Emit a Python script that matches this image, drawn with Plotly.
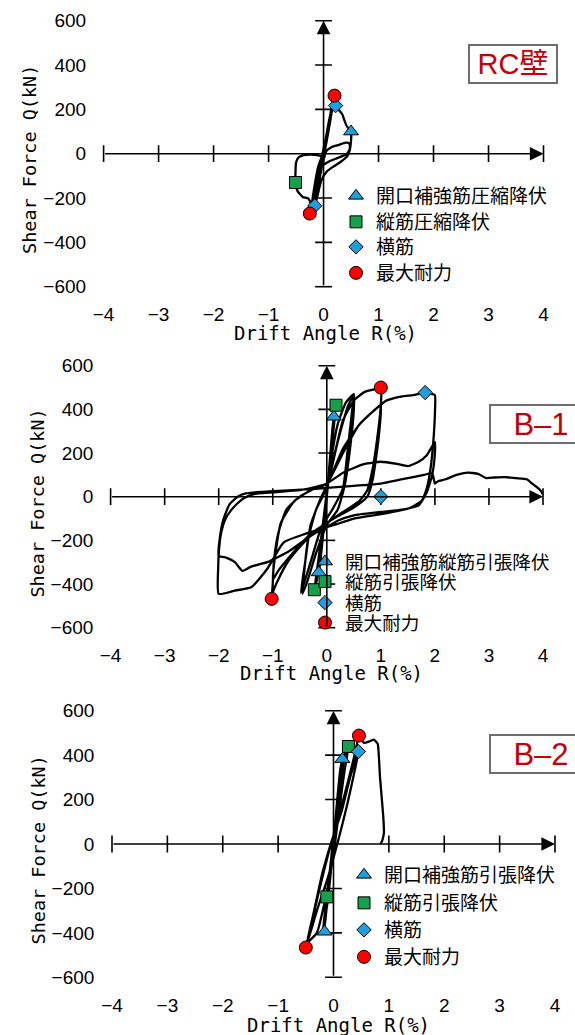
import plotly.graph_objects as go

W, H = 575, 1035

# ---------------- tick values / labels ----------------
drift_ticks = [-4, -3, -2, -1, 0, 1, 2, 3, 4]
drift_tick_text = ["−4", "−3", "−2", "−1", "0", "1", "2", "3", "4"]
shear_ticks = [-600, -400, -200, 0, 200, 400, 600]
shear_tick_text = ["−600", "−400", "−200", "0", "200", "400", "600"]
cross_drift = [-4, -3, -2, -1, 1, 2, 3, 4]
cross_shear = [-600, -400, -200, 200, 400, 600]

panel_names = ["RC壁", "B–1", "B–2"]
x_title = "Drift Angle R(%)"
y_title = "Shear Force Q(kN)"

# ---------------- RC壁 hysteresis ----------------
rc_drift = [0.00, 0.08, 0.16, 0.10, 0.00, -0.10, -0.17, -0.09, 0.00, 0.10, 0.18, 0.12,
            0.02, -0.08, -0.19, -0.12, -0.02, 0.08, 0.17, 0.11, 0.01, -0.09, -0.20,
            -0.13, -0.03, 0.08, 0.16, 0.20, 0.22, 0.27, 0.34, 0.38,
            0.42, 0.50, 0.50, 0.47, 0.43, 0.32, 0.18, 0.06, -0.04, -0.12, -0.16, -0.10,
            -0.03, 0.05, 0.15, 0.28, 0.40, 0.46, 0.48, 0.46, 0.40, 0.25, 0.10, -0.05,
            -0.15, -0.22, -0.18, -0.10, -0.04, -0.12, -0.25, -0.38, -0.46, -0.50, -0.51,
            -0.51, -0.47, -0.38, -0.28, -0.22, -0.25, -0.18, -0.10, -0.02, 0.06, 0.14,
            0.20]
rc_shear = [0, 110, 215, 120, -10, -140, -230, -120, 10, 150, 235, 150,
            10, -120, -245, -150, -10, 120, 225, 130, -5, -130, -240,
            -140, -20, 110, 230, 262, 217, 200, 178, 150,
            125, 100, 60, 10, -12, -35, -58, -80, -120, -200, -235, -150,
            -60, 12, 30, 40, 50, 48, 30, 12, -5, -20, -35, -60,
            -150, -240, -170, -60, -12, -6, -4, -8, -18, -40, -80,
            -130, -170, -195, -202, -230, -270, -180, -80, 0, 90, 180,
            230]

# ---------------- B-1 hysteresis ----------------
b1_drift = [0.00, 0.05, 0.10, 0.13, 0.08, 0.00, -0.06, -0.12, -0.15, -0.08, 0.00, 0.08,
            0.15, 0.17, 0.10, 0.00, -0.10, -0.20, -0.23, -0.15, -0.05,
            0.05, 0.20, 0.35, 0.50, 0.50, 0.42, 0.33, 0.20, 0.00, -0.20, -0.35, -0.45,
            -0.42, -0.35, -0.20, 0.00, 0.20, 0.40, 0.50, 0.48, 0.38, 0.30, 0.10, -0.10,
            -0.30, -0.48, -0.40, -0.30, -0.10, 0.00,
            0.15, 0.30, 0.50, 0.70, 0.85, 1.00, 1.00, 0.95, 0.85, 0.75, 0.60, 0.30, 0.00,
            -0.30, -0.50, -0.70, -0.90, -1.00, -1.02, -1.00, -0.98, -0.90, -0.75, -0.50,
            -0.20, 0.00, 0.30, 0.60, 0.85, 1.00, 0.95, 0.85, 0.75, 0.50, 0.20, 0.00,
            -0.30, -0.60, -0.90, -1.00, -0.95, -0.85, -0.60, -0.30, 0.00,
            0.30, 0.60, 0.90, 1.10, 1.40, 1.60, 1.82, 1.95, 2.00, 2.00, 1.97, 1.92, 1.85,
            1.75, 1.50, 1.00, 0.50, 0.20, 0.00, -0.40, -0.80, -1.10, -1.40, -1.70, -2.00,
            -2.01, -1.99, -1.95, -1.88, -1.78, -1.65, -1.52, -1.35, -1.00, -0.50, -0.20, 0.00,
            0.30, 0.70, 1.00, 1.30, 1.50, 1.70, 1.85, 2.00, 2.00, 1.95, 1.85, 1.70, 1.40,
            1.00, 0.50, 0.17, 0.00, -0.30, -0.70, -1.10, -1.40, -1.56, -1.70, -1.85, -2.00,
            -1.98, -1.92, -1.80, -1.65, -1.50, -1.20, -0.80, -0.30, 0.00,
            0.50, 1.00, 1.40, 1.80, 1.95, 2.00, 2.05, 2.20, 2.40, 2.60, 2.80, 2.95, 3.10,
            3.30, 3.50, 3.70, 3.80, 3.95, 4.00]
b1_shear = [0, 150, 300, 366, 200, 0, -150, -300, -347, -180, 0, 220,
            400, 419, 250, 20, -230, -400, -426, -280, -80,
            120, 330, 430, 470, 400, 200, 50, -60, -130, -260, -380, -445,
            -350, -200, -60, 40, 250, 420, 465, 420, 200, 40, -60, -140,
            -300, -440, -300, -130, 0, 50,
            200, 350, 440, 480, 490, 500, 420, 300, 130, 30, -20, -70, -120,
            -180, -230, -290, -380, -440, -468, -400, -300, -170, -60, 0,
            40, 60, 220, 330, 390, 420, 250, 80, 0, -50, -90, -120,
            -170, -250, -340, -380, -260, -120, -20, 30, 60,
            200, 330, 400, 440, 460, 465, 477, 470, 465, 380, 250, 130, 40,
            -20, -55, -70, -85, -110, -140, -170, -210, -330, -415, -430, -445,
            -330, -230, -160, -105, -65, -30, -5, 12, 20, 30, 45, 60,
            110, 150, 160, 150, 140, 160, 190, 250, 200, 100, 20, -40, -60,
            -80, -100, -127, -140, -180, -250, -300, -320, -340, -300, -280, -270,
            -190, -110, -35, 0, 15, 22, 28, 35, 40,
            50, 60, 80, 100, 108, 60, 70, 80, 100, 110, 105, 85, 88,
            90, 85, 80, 60, 30, 10]

# ---------------- B-2 hysteresis ----------------
b2_drift = [0.00, 0.08, 0.15, 0.05, -0.05, -0.15, -0.18, -0.08, 0.03, 0.12, 0.16, 0.10,
            0.00, -0.10, -0.12, -0.20, -0.10, 0.00, 0.10, 0.20, 0.27, 0.20, 0.10, 0.00,
            -0.15, -0.30, -0.45, -0.50, -0.35, -0.20, -0.05, 0.15, 0.30, 0.45, 0.40, 0.25,
            0.10, -0.10, -0.30, -0.48, -0.40, -0.25, -0.10, 0.05, 0.25, 0.40, 0.46, 0.55,
            0.65, 0.73, 0.77, 0.80, 0.84, 0.90, 0.91, 0.88, 0.85]
b2_shear = [0, 200, 380, 150, -100, -350, -395, -150, 100, 330, 382, 250,
            20, -200, -238, -400, -250, 0, 200, 400, 439, 330, 150, -50,
            -250, -400, -440, -466, -300, -130, 0, 150, 300, 416, 350, 180,
            30, -150, -300, -450, -360, -200, -50, 80, 270, 420, 488, 455,
            462, 470, 460, 450, 300, 120, 50, 15, 0]

# ---------------- event markers (x = drift %, y = shear kN) ----------------
rc_events = {
    "open": ([0.50], [100]),
    "vert": ([-0.51], [-130]),
    "horiz": ([0.22, -0.16], [217, -235]),
    "max": ([0.20, -0.25], [262, -270]),
}
b1_events = {
    "open": ([0.13, -0.15], [366, -347]),
    "vert": ([0.17, -0.23], [419, -426]),
    "horiz": ([1.82, 1.00], [477, 0]),
    "max": ([1.00, -1.02], [500, -468]),
}
b2_events = {
    "open": ([0.16, -0.16], [382, -395]),
    "vert": ([0.27, -0.12], [439, -238]),
    "horiz": ([0.45], [416]),
    "max": ([0.46, -0.50], [488, -466]),
}

rc_labels = ["開口補強筋圧縮降伏", "縦筋圧縮降伏", "横筋", "最大耐力"]
b1_labels = ["開口補強筋縦筋引張降伏", "縦筋引張降伏", "横筋", "最大耐力"]
b2_labels = ["開口補強筋引張降伏", "縦筋引張降伏", "横筋", "最大耐力"]

# ---------------- styles / layout geometry ----------------
BLUE, GREEN, RED = "#1E9EDC", "#16A04B", "#FF0000"
event_keys = ["open", "vert", "horiz", "max"]
event_style = {
    "open": dict(symbol="triangle-up", color=BLUE, size=13),
    "vert": dict(symbol="square", color=GREEN, size=12),
    "horiz": dict(symbol="diamond", color=BLUE, size=11),
    "max": dict(symbol="circle", color=RED, size=13),
}

XR = [-4.3, 4.3]
YR = [-665, 665]

panels = [
    dict(drift=rc_drift, shear=rc_shear, events=rc_events, labels=rc_labels,
         px=(103.6, 543.5), py=(20.7, 286.7), leg_x=376, leg_rows=[196, 222, 247, 273],
         leg_font=19, xt=(325.5, 332.5), yt=(29, 160), box=(513, 63.5)),
    dict(drift=b1_drift, shear=b1_shear, events=b1_events, labels=b1_labels,
         px=(110.6, 543.0), py=(365.7, 627.7), leg_x=345, leg_rows=[562, 582, 603, 623],
         leg_font=18.6, xt=(331, 673), yt=(36.6, 503), box=(541, 424)),
    dict(drift=b2_drift, shear=b2_shear, events=b2_events, labels=b2_labels,
         px=(112.0, 555.0), py=(710.7, 977.3), leg_x=384, leg_rows=[875, 903, 930, 957],
         leg_font=19, xt=(338, 1025), yt=(37.5, 850), box=(541, 754)),
]

fig = go.Figure()
annotations = []
layout = {}
legend_count = 0

for i, p in enumerate(panels):
    n = "" if i == 0 else str(i + 1)
    xa, ya = "x" + n, "y" + n

    # domains from pixel anchors
    xl, xr = p["px"]
    sx = (xr - xl) / 8.0
    d_left = (xl + (XR[0] + 4) * sx) / W
    d_right = (xl + (XR[1] + 4) * sx) / W
    yt_px, yb_px = p["py"]
    sy = (yb_px - yt_px) / 1200.0
    top_px = yt_px - (YR[1] - 600) * sy
    bot_px = yb_px + (-600 - YR[0]) * sy
    layout["xaxis" + n] = dict(
        domain=[d_left, d_right], range=XR, anchor=ya, showgrid=False, zeroline=False,
        showline=False, ticks="", tickvals=drift_ticks, ticktext=drift_tick_text,
        tickfont=dict(family="Liberation Sans, Arial", size=19, color="black"),
        automargin=False, fixedrange=True)
    layout["yaxis" + n] = dict(
        domain=[1 - bot_px / H, 1 - top_px / H], range=YR, anchor=xa, showgrid=False,
        zeroline=False, showline=False, ticks="", tickvals=shear_ticks,
        ticktext=shear_tick_text,
        tickfont=dict(family="Liberation Sans, Arial", size=19, color="black"),
        automargin=False, fixedrange=True)

    # hysteresis curve
    fig.add_trace(go.Scatter(x=p["drift"], y=p["shear"], mode="lines",
                             line=dict(color="black", width=2.3, shape="spline",
                                       smoothing=0.5),
                             showlegend=False, xaxis=xa, yaxis=ya, hoverinfo="skip"))
    # tick crosses on the axes
    fig.add_trace(go.Scatter(x=cross_drift, y=[0] * len(cross_drift), mode="markers",
                             marker=dict(symbol="line-ns", size=12,
                                         line=dict(color="black", width=1.6)),
                             showlegend=False, xaxis=xa, yaxis=ya, hoverinfo="skip"))
    fig.add_trace(go.Scatter(x=[0] * len(cross_shear), y=cross_shear, mode="markers",
                             marker=dict(symbol="line-ew", size=12,
                                         line=dict(color="black", width=1.6)),
                             showlegend=False, xaxis=xa, yaxis=ya, hoverinfo="skip"))

    # axis arrows
    annotations.append(dict(x=4, y=0, ax=-4, ay=0, xref=xa, yref=ya, axref=xa, ayref=ya,
                            text="", showarrow=True, arrowhead=2, arrowsize=1.7,
                            arrowwidth=1.6, arrowcolor="black", standoff=0))
    annotations.append(dict(x=0, y=600, ax=0, ay=-600, xref=xa, yref=ya, axref=xa,
                            ayref=ya, text="", showarrow=True, arrowhead=2, arrowsize=1.7,
                            arrowwidth=1.6, arrowcolor="black", standoff=0))

    # event markers + per-item legends
    for k, key in enumerate(event_keys):
        legend_count += 1
        lname = "legend" if legend_count == 1 else "legend%d" % legend_count
        st = event_style[key]
        ex, ey = p["events"][key]
        fig.add_trace(go.Scatter(
            x=ex, y=ey, mode="markers", name=p["labels"][k],
            marker=dict(symbol=st["symbol"], color=st["color"], size=st["size"],
                        line=dict(color="black", width=1)),
            xaxis=xa, yaxis=ya, legend=lname, cliponaxis=False, hoverinfo="skip"))
        layout[lname] = dict(
            x=(p["leg_x"] - 40) / W, xanchor="left",
            y=1 - p["leg_rows"][k] / H, yanchor="middle",
            bgcolor="rgba(0,0,0,0)", borderwidth=0, itemwidth=30,
            font=dict(family="Noto Sans CJK JP", size=p["leg_font"], color="black"))

    # axis titles
    annotations.append(dict(x=p["xt"][0] / W, y=1 - p["xt"][1] / H, xref="paper",
                            yref="paper", text=x_title, showarrow=False,
                            font=dict(family="DejaVu Sans Mono", size=19, color="black"),
                            xanchor="center", yanchor="middle"))
    annotations.append(dict(x=p["yt"][0] / W, y=1 - p["yt"][1] / H, xref="paper",
                            yref="paper", text=y_title, showarrow=False, textangle=-90,
                            font=dict(family="DejaVu Sans Mono", size=18.5, color="black"),
                            xanchor="center", yanchor="middle"))

    # specimen label box
    bw = 86 if i == 0 else 100
    annotations.append(dict(x=p["box"][0] / W, y=1 - p["box"][1] / H, xref="paper",
                            yref="paper", text=panel_names[i], showarrow=False,
                            font=dict(family="Liberation Sans, Arial, Noto Sans CJK JP",
                                      size=29 if i == 0 else 31, color="#C4000A"),
                            bgcolor="white", bordercolor="#6E6E6E", borderwidth=2,
                            borderpad=0, width=bw, height=36,
                            xanchor="center", yanchor="middle"))

fig.update_layout(
    width=W, height=H, margin=dict(l=0, r=0, t=0, b=0, autoexpand=False),
    paper_bgcolor="white", plot_bgcolor="white",
    annotations=annotations, **layout)

fig.write_html(
    "out.html",
    config={"displayModeBar": False, "staticPlot": True},
    post_script="document.body.style.margin='0';document.body.style.overflow='hidden';")
